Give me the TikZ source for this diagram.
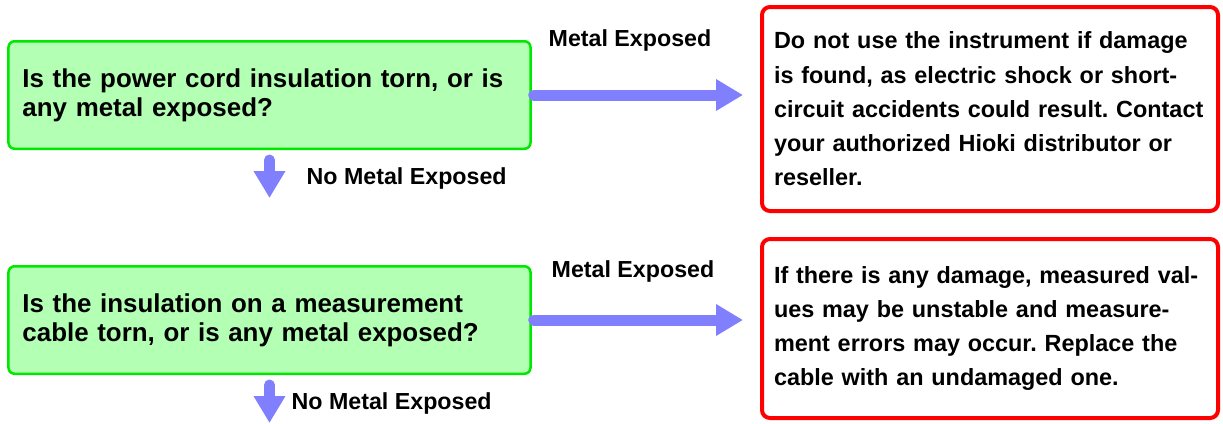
\documentclass[tikz,border=0pt]{standalone}
\usepackage{fontspec}
\setmainfont{Liberation Sans}
\usetikzlibrary{arrows.meta,positioning}
\definecolor{boxgreen}{RGB}{179,255,179}
\definecolor{edgegreen}{RGB}{0,232,0}
\definecolor{flowblue}{RGB}{128,128,255}
\frenchspacing

\begin{document}
\begin{tikzpicture}[x=1bp,y=-1bp,
question/.style={draw=edgegreen,line width=2.5bp,fill=boxgreen,rounded corners=6bp,text width=494bp,inner xsep=14bp,minimum height=107.5bp,align=left,font=\bfseries\fontsize{26}{29}\selectfont},
warning/.style={draw=red,line width=4bp,rounded corners=8bp,text width=432bp,inner xsep=12bp,align=left,font=\bfseries\fontsize{23.5}{34.4}\selectfont},
answer/.style={font=\bfseries\fontsize{23.3}{26}\selectfont,inner sep=0pt},
flow/.style={color=flowblue,line width=11bp,line cap=round,-{Triangle[length=27bp,width=30bp]}}]
\useasboundingbox (0,0) rectangle (1223,423);
% questions
\node[question] (q1) at (269.5,95) {Is the power cord insulation torn, or is\\any metal exposed?\\[6bp]};
\node[question] (q2) at (269.5,320) {Is the insulation on a measurement\\cable torn, or is any metal exposed?\\[6bp]};
% warnings
\node[warning,minimum height=204bp] (w1) at (990,109) {Do not use the instrument if damage\\is found, as electric shock or short-\\circuit accidents could result. Contact\\your authorized Hioki distributor or\\reseller.};
\node[warning,minimum height=179bp] (w2) at (990,328.5) {If there is any damage, measured val-\\ues may be unstable and measure-\\ment errors may occur. Replace the\\cable with an undamaged one.};
% free ends
\coordinate[below=48bp of q1.south] (d1);
\coordinate[below=48bp of q2.south] (d2);
% labels
\node[answer] (m1) at (630,40) {Metal Exposed};
\node[answer] (m2) at (633,271) {Metal Exposed};
\node[answer,right=37bp of d1,yshift=20bp] (n1) {No Metal Exposed};
\node[answer,right=22bp of d2,yshift=20bp] (n2) {No Metal Exposed};
\path[flow]
(q1.east) edge[shorten <=2bp,shorten >=17bp] (q1.east -| w1.west)
(q2.east) edge[shorten <=2bp,shorten >=17bp] (q2.east -| w2.west)
(q1.south) edge[shorten <=10bp] (d1)
(q2.south) edge[shorten <=10bp] (d2)
;
\end{tikzpicture}
\end{document}
